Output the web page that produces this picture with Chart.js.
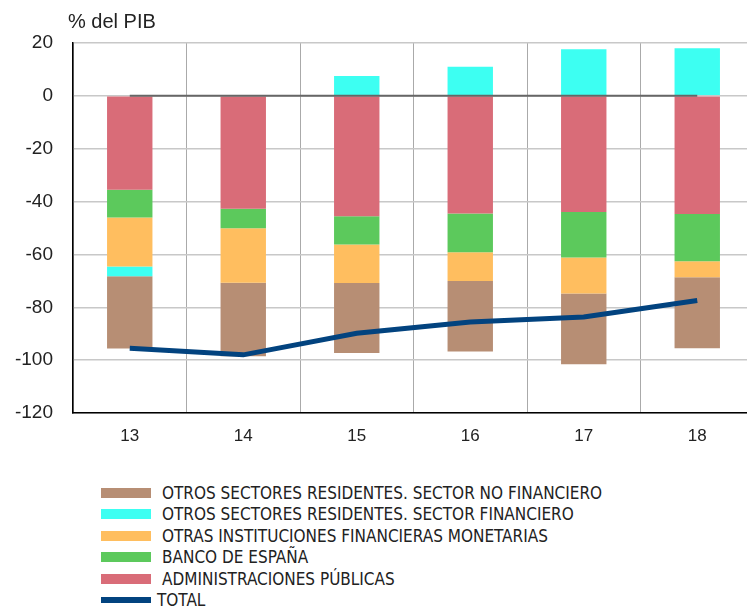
<!DOCTYPE html>
<html>
<head>
<meta charset="utf-8">
<script src="https://cdn.jsdelivr.net/npm/chart.js@4"></script>
<style>
  html, body { margin: 0; padding: 0; background: #fff; overflow: hidden; }
  #wrap { position: relative; width: 747px; height: 610px; overflow: hidden; }
  #chart { position: absolute; left: 0; top: 0; }
  #legend {
    position: absolute; left: 101px; top: 482px;
    font-family: 'Liberation Sans Narrow', 'DejaVu Sans Condensed', sans-serif;
    font-size: 17px; color: #222;
  }
  .row { display: flex; align-items: center; height: 21.5px; white-space: nowrap; }
  .box { width: 50px; height: 10px; margin-right: 11px; flex: none; }
  .row.line .box { height: 6px; margin-right: 6px; }
</style>
</head>
<body>
<div id="wrap">
  <canvas id="chart" width="754" height="460"></canvas>
  <div id="legend"></div>
</div>
<script>
// years (20xx)
const years = ['13', '14', '15', '16', '17', '18'];

// % del PIB
const aapp = [-35.5, -42.7, -45.6, -44.5, -43.9, -44.7];
const bancoEspana = [-10.5, -7.4, -10.6, -14.7, -17.3, -17.9];
const otrasIfm = [-18.6, -20.6, -14.6, -10.9, -13.6, -6.0];
const osrFinanciero = [-3.7, 0, 7.5, 11.0, 17.6, 18.0];
const osrNoFinanciero = [-27.3, -27.8, -26.5, -26.6, -26.8, -26.9];
const total = [-95.5, -98.0, -89.8, -85.6, -83.7, -77.4];
const zeroLine = [0, 0, 0, 0, 0, 0];

const yTicks = [20, 0, -20, -40, -60, -80, -100, -120];

const textColor = '#222';
const sans = "'Liberation Sans', Arial, sans-serif";

// legend order as in the original
const legendOrder = [
  'OTROS SECTORES RESIDENTES. SECTOR NO FINANCIERO',
  'OTROS SECTORES RESIDENTES. SECTOR FINANCIERO',
  'OTRAS INSTITUCIONES FINANCIERAS MONETARIAS',
  'BANCO DE ESPAÑA',
  'ADMINISTRACIONES PÚBLICAS',
  'TOTAL'
];

function bar(label, data, color) {
  return {
    type: 'bar',
    label: label,
    data: data,
    backgroundColor: color,
    borderWidth: 0,
    stack: 'bars',
    categoryPercentage: 1.0,
    barPercentage: 0.4
  };
}

// unit label at top left
const unitLabel = {
  id: 'unitLabel',
  afterDraw(chart) {
    const ctx = chart.ctx;
    ctx.save();
    ctx.fillStyle = textColor;
    ctx.font = '20px ' + sans;
    ctx.textBaseline = 'alphabetic';
    ctx.textAlign = 'left';
    ctx.fillText('% del PIB', chart.chartArea.left - 5, 28);
    ctx.restore();
  }
};

const ctx = document.getElementById('chart').getContext('2d');
const chart = new Chart(ctx, {
  data: {
    labels: years,
    datasets: [
      bar('ADMINISTRACIONES PÚBLICAS', aapp, '#D96C78'),
      bar('BANCO DE ESPAÑA', bancoEspana, '#5CC95C'),
      bar('OTRAS INSTITUCIONES FINANCIERAS MONETARIAS', otrasIfm, '#FFBE5F'),
      bar('OTROS SECTORES RESIDENTES. SECTOR FINANCIERO', osrFinanciero, '#3DFFF2'),
      bar('OTROS SECTORES RESIDENTES. SECTOR NO FINANCIERO', osrNoFinanciero, '#B78E74'),
      {
        type: 'line',
        label: 'TOTAL',
        data: total,
        borderColor: '#02437F',
        backgroundColor: '#02437F',
        borderWidth: 5,
        pointRadius: 0,
        tension: 0,
        stack: 'total',
        order: -2
      },
      {
        type: 'line',
        label: 'cero',
        data: zeroLine,
        borderColor: '#666',
        backgroundColor: '#666',
        borderWidth: 2,
        pointRadius: 0,
        stack: 'zero',
        order: -1
      }
    ]
  },
  options: {
    responsive: false,
    animation: false,
    layout: {
      padding: { top: 43, right: 0, bottom: 0, left: 0 }
    },
    plugins: {
      title: { display: false },
      tooltip: { enabled: false },
      legend: { display: false }
    },
    scales: {
      x: {
        stacked: true,
        offset: true,
        grid: {
          offset: true,
          color: '#aaa',
          lineWidth: 1,
          drawTicks: false
        },
        border: { color: '#000', width: 1.5 },
        ticks: {
          color: textColor,
          font: { family: sans, size: 17 },
          padding: 13
        },
        afterFit(scale) { scale.height = 47; }
      },
      y: {
        stacked: true,
        min: -120,
        max: 20,
        afterBuildTicks(scale) {
          scale.ticks = yTicks.map(v => ({ value: v }));
        },
        grid: {
          color: '#c8c8c8',
          lineWidth: 1.5,
          drawTicks: false
        },
        border: { color: '#000', width: 1.5 },
        ticks: {
          color: textColor,
          font: { family: sans, size: 19 },
          padding: 20
        },
        afterFit(scale) { scale.width = 73; }
      }
    }
  },
  plugins: [unitLabel]
});

// legend, one entry per row, built from the chart's datasets
const legendEl = document.getElementById('legend');
chart.data.datasets
  .filter(ds => legendOrder.includes(ds.label))
  .sort((a, b) => legendOrder.indexOf(a.label) - legendOrder.indexOf(b.label))
  .forEach(ds => {
    const row = document.createElement('div');
    row.className = 'row' + (ds.type === 'line' ? ' line' : '');
    const box = document.createElement('span');
    box.className = 'box';
    box.style.background = ds.type === 'line' ? ds.borderColor : ds.backgroundColor;
    const txt = document.createElement('span');
    txt.textContent = ds.label;
    row.appendChild(box);
    row.appendChild(txt);
    legendEl.appendChild(row);
  });
</script>
</body>
</html>
